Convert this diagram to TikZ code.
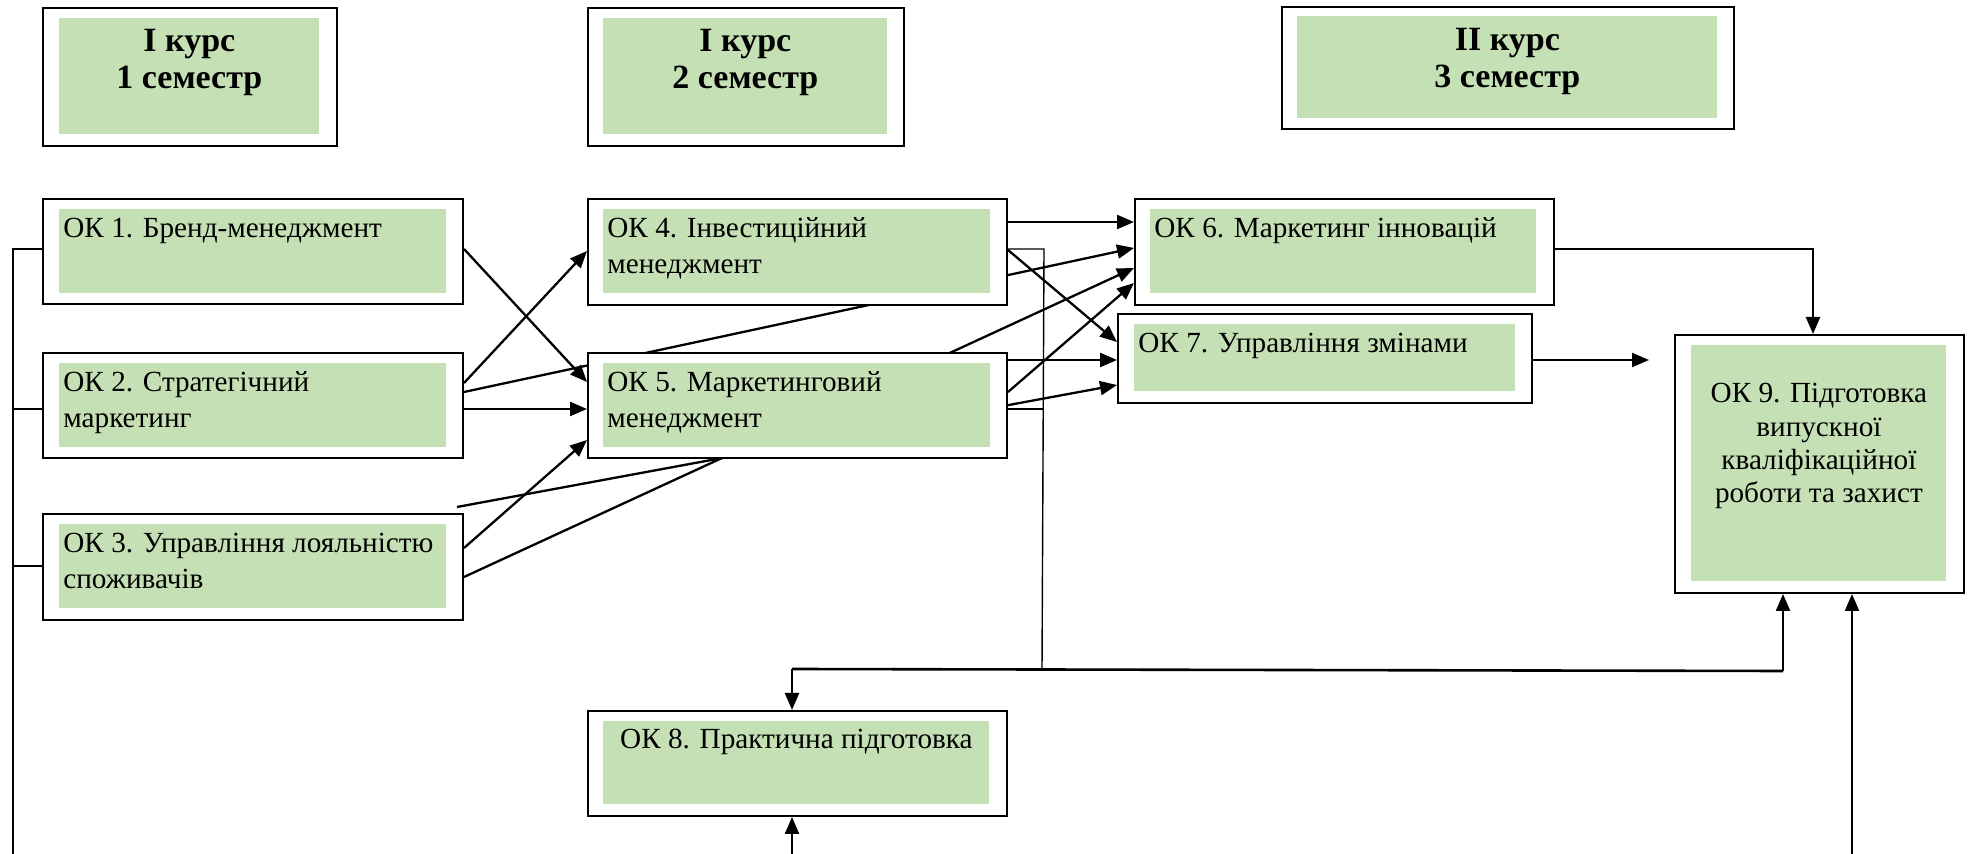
\documentclass[tikz,border=0pt]{standalone}
\usepackage{fontspec}
\setmainfont{Liberation Serif}
\usetikzlibrary{arrows.meta,calc}
\pgfdeclarelayer{background}
\pgfsetlayers{background,main}
\definecolor{boxgreen}{HTML}{C5E0B4}
\newcommand{\lefttext}[1]{\begin{tabular}[t]{@{}l@{}}#1\end{tabular}}
\newcommand{\centtext}[1]{\begin{tabular}[t]{@{}c@{}}#1\end{tabular}}
\begin{document}
\begin{tikzpicture}[x=0.5pt,y=-0.5pt,
  outer/.style={draw=black, line width=1pt, fill=white, inner sep=0pt, anchor=north west},
  inner/.style={fill=boxgreen, inner sep=0pt, anchor=north west},
  body/.style={inner sep=0pt, anchor=base west, font=\fontsize{14.6}{17.8}\selectfont},
  bodyc/.style={inner sep=0pt, anchor=base, font=\fontsize{14.6}{16.6}\selectfont},
  head/.style={inner sep=0pt, anchor=base, font=\fontsize{17}{18.5}\selectfont\bfseries},
  arr/.style={line width=1.15pt, -{Triangle[length=8.5pt,width=7pt]}},
  thinln/.style={line width=0.7pt}]
\useasboundingbox (0,0) rectangle (1971,854);

% headers
\node[outer, minimum width=147pt, minimum height=69pt] (h1) at (42,7) {};
\node[inner, minimum width=130pt, minimum height=58pt] (h1f) at (59,18) {};
\node[head] (h1t) at ($(h1f.north)+(0,34)$) {\centtext{I курс\\1 семестр}};
\node[outer, minimum width=158pt, minimum height=69pt] (h2) at (587,7) {};
\node[inner, minimum width=142pt, minimum height=58pt] (h2f) at (603,18) {};
\node[head] (h2t) at ($(h2f.north)+(0,34)$) {\centtext{I курс\\2 семестр}};
\node[outer, minimum width=226pt, minimum height=61pt] (h3) at (1281,6) {};
\node[inner, minimum width=210pt, minimum height=51pt] (h3f) at (1297,16) {};
\node[head] (h3t) at ($(h3f.north)+(0,35)$) {\centtext{II курс\\3 семестр}};

% column 1
\node[outer, minimum width=210pt, minimum height=52.5pt] (ok1) at (42,198) {};
\node[inner, minimum width=193.5pt, minimum height=42pt] (ok1f) at (59,209) {};
\node[body] (ok1t) at ($(ok1f.north west)+(4,29)$) {\lefttext{ОК 1. Бренд-менеджмент}};
\node[outer, minimum width=210pt, minimum height=52.5pt] (ok2) at (42,352) {};
\node[inner, minimum width=193.5pt, minimum height=42pt] (ok2f) at (59,363) {};
\node[body] (ok2t) at ($(ok2f.north west)+(4,29)$) {\lefttext{ОК 2. Стратегічний\\маркетинг}};
\node[outer, minimum width=210pt, minimum height=53pt] (ok3) at (42,513) {};
\node[inner, minimum width=193.5pt, minimum height=42pt] (ok3f) at (59,524) {};
\node[body] (ok3t) at ($(ok3f.north west)+(4,29)$) {\lefttext{ОК 3. Управління лояльністю\\споживачів}};

% column 2
\node[outer, minimum width=209.5pt, minimum height=53pt] (ok4) at (587,198) {};
\node[inner, minimum width=193.5pt, minimum height=42pt] (ok4f) at (603,209) {};
\node[body] (ok4t) at ($(ok4f.north west)+(4,29)$) {\lefttext{ОК 4. Інвестиційний\\менеджмент}};
\node[outer, minimum width=209.5pt, minimum height=52.5pt] (ok5) at (587,352) {};
\node[inner, minimum width=193.5pt, minimum height=42pt] (ok5f) at (603,363) {};
\node[body] (ok5t) at ($(ok5f.north west)+(4,29)$) {\lefttext{ОК 5. Маркетинговий\\менеджмент}};
\node[outer, minimum width=209.5pt, minimum height=52.5pt] (ok8) at (587,710) {};
\node[inner, minimum width=193pt, minimum height=41.5pt] (ok8f) at (603,721) {};
\node[bodyc] (ok8t) at ($(ok8f.north)+(0,28)$) {ОК 8. Практична підготовка};

% column 3
\node[outer, minimum width=209.5pt, minimum height=53pt] (ok6) at (1134,198) {};
\node[inner, minimum width=193pt, minimum height=42pt] (ok6f) at (1150,209) {};
\node[body] (ok6t) at ($(ok6f.north west)+(4,29)$) {\lefttext{ОК 6. Маркетинг інновацій}};
\node[outer, minimum width=207pt, minimum height=44.5pt] (ok7) at (1117,313) {};
\node[inner, minimum width=190.5pt, minimum height=33.5pt] (ok7f) at (1134,324) {};
\node[body] (ok7t) at ($(ok7f.north west)+(4,29)$) {\lefttext{ОК 7. Управління змінами}};
\node[outer, minimum width=144.5pt, minimum height=129pt] (ok9) at (1674,334) {};
\node[inner, minimum width=127.5pt, minimum height=118pt] (ok9f) at (1691,345) {};
\node[bodyc] (ok9t) at ($(ok9f.north)+(0,58)$) {\centtext{ОК 9. Підготовка\\випускної\\кваліфікаційної\\роботи та захист}};

\begin{pgfonlayer}{background}
\draw[arr] ($(ok1.north east)+(0,51)$) -- ($(ok5.north west)+(0,30)$);
\draw[arr] ($(ok2.north east)+(0,31)$) -- ($(ok4.north west)+(0,53)$);
\draw[arr] ($(ok2.north east)+(0,40)$) -- ($(ok6.north west)+(0,50)$);
\draw[arr] ($(ok2.north east)+(0,57)$) -- ($(ok5.north west)+(0,57)$);
\draw[arr] ($(ok3.north east)+(0,35)$) -- ($(ok5.north west)+(0,88)$);
\draw[arr] ($(ok3.north east)+(0,64)$) -- ($(ok6.north west)+(0,70)$);
\coordinate (s7) at ($(ok3.north east)+(-7,-6)$);
\draw[arr] (s7) -- ($(ok7.north west)+(0,72)$);
\draw[arr] ($(ok4.north east)+(0,24)$) -- ($(ok6.north west)+(0,24)$);
\draw[arr] ($(ok4.north east)+(0,52)$) -- ($(ok7.north west)+(0,29)$);
\draw[arr] ($(ok5.north east)+(0,8)$) -- ($(ok7.north west)+(0,47)$);
\draw[arr] ($(ok5.north east)+(0,40)$) -- ($(ok6.north west)+(0,85)$);
\draw[arr] ($(ok6.north east)+(0,51)$) -| ($(ok9.north west)+(139,0)$);
\coordinate (e7) at ($(ok7.north east)+(116,47)$);
\draw[arr] ($(ok7.north east)+(0,47)$) -- (e7);
% left bus
\coordinate (busTop) at ($(ok1.north west)+(-29,51)$);
\coordinate (busBot) at (13,854);
\draw[thinln] ($(ok1.north west)+(0,51)$) -- (busTop) -- (busBot);
\draw[thinln] ($(ok2.north west)+(0,57)$) -- ++(-29,0);
\draw[thinln] ($(ok3.north west)+(0,53)$) -- ++(-29,0);
% right bracket
\coordinate (brTop) at ($(ok4.north east)+(36,51)$);
\coordinate (brBot) at ($(ok8.north west)+(455,-41)$);
\draw[thinln] ($(ok4.north east)+(0,51)$) -- (brTop) -- (brBot);
\draw[thinln] ($(ok5.north east)+(0,57)$) -- ++(36,0);
% bus to ok8 / ok9
\coordinate (b8) at ($(ok8.north west)+(205,-41)$);
\coordinate (b9) at ($(ok9.south west)+(109,77)$);
\draw[line width=1.3pt] (b8) -- (b9);
\draw[arr] (b8) -- ($(ok8.north west)+(205,0)$);
\draw[arr] (b9) -- ($(ok9.south west)+(109,0)$);
% inputs from below
\coordinate (in8) at (792,854);
\coordinate (in9) at (1852,854);
\draw[arr] (in8) -- ($(ok8.south west)+(205,0)$);
\draw[arr] (in9) -- ($(ok9.south west)+(178,0)$);
\end{pgfonlayer}
\end{tikzpicture}
\end{document}
